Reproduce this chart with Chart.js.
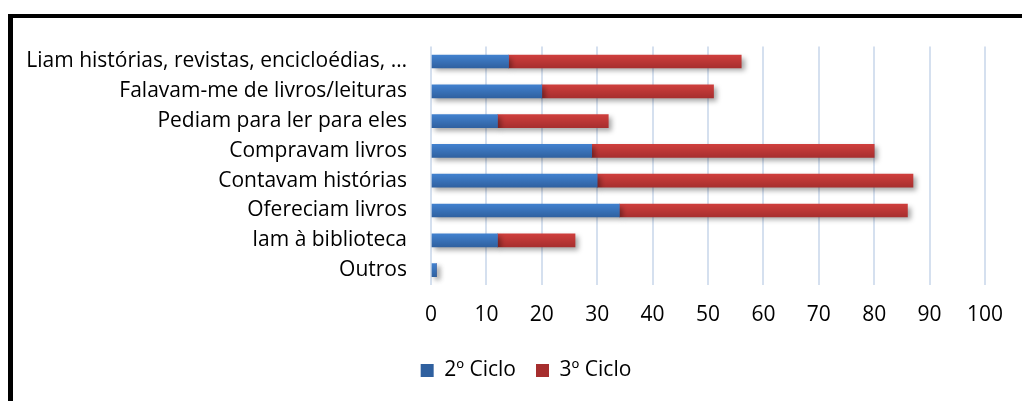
<!DOCTYPE html>
<html>
<head>
<meta charset="utf-8">
<script src="https://cdn.jsdelivr.net/npm/chart.js@4.4.1/dist/chart.umd.min.js"></script>
<style>
  html, body { margin: 0; padding: 0; background: #fff; overflow: hidden; width: 1022px; height: 401px; }
  #frame { position: absolute; left: 8px; top: 14px; width: 1100px; height: 500px;
           border-top: 4px solid #000; border-left: 5px solid #000; }
  #wrap { position: absolute; left: 13px; top: 18px; width: 1026px; height: 383px; }
</style>
</head>
<body>
<div id="frame"></div>
<div id="wrap"><canvas id="c"></canvas></div>
<script>
const categories = [
  "Liam histórias, revistas, encicloédias, …",
  "Falavam-me de livros/leituras",
  "Pediam para ler para eles",
  "Compravam livros",
  "Contavam histórias",
  "Ofereciam livros",
  "Iam à biblioteca",
  "Outros"
];
const ciclo2 = [14, 20, 12, 29, 30, 34, 12, 1];
const ciclo3 = [42, 31, 20, 51, 57, 52, 14, 0];
const seriesNames = ["2º Ciclo", "3º Ciclo"];
const xTicks = [0, 10, 20, 30, 40, 50, 60, 70, 80, 90, 100];

const FONT = "'Open Sans', Lato, sans-serif";
const FS = 21;

function grad(top, bottom, solid) {
  return function (ctx) {
    const chart = ctx.chart;
    if (ctx.dataIndex === undefined || !chart.scales || !chart.scales.y) return solid;
    const y = chart.scales.y.getPixelForValue(ctx.dataIndex);
    if (!isFinite(y)) return solid;
    const g = chart.ctx.createLinearGradient(0, y - 7, 0, y + 7);
    g.addColorStop(0, top);
    g.addColorStop(1, bottom);
    return g;
  };
}

const shadowPlugin = {
  id: 'shadow',
  beforeDatasetsDraw(chart) {
    const c = chart.ctx;
    c.save();
    c.shadowColor = 'rgba(0,0,0,0.35)';
    c.shadowBlur = 5;
    c.shadowOffsetX = 3;
    c.shadowOffsetY = 3;
  },
  afterDatasetsDraw(chart) { chart.ctx.restore(); }
};

const legendShift = {
  id: 'legendShift',
  afterLayout(chart) {
    if (chart.legend) { chart.legend.left += 27; chart.legend.right += 27; }
  }
};

new Chart(document.getElementById('c'), {
  type: 'bar',
  data: {
    labels: categories,
    datasets: [
      { label: seriesNames[0], data: ciclo2, backgroundColor: grad('#4282d0', '#2f609f', '#3a74bd'), barThickness: 13 },
      { label: seriesNames[1], data: ciclo3, backgroundColor: grad('#d03f3d', '#a62e2e', '#c0393a'), barThickness: 13 }
    ]
  },
  plugins: [shadowPlugin, legendShift],
  options: {
    indexAxis: 'y',
    responsive: true,
    maintainAspectRatio: false,
    animation: false,
    layout: { padding: { top: 11, right: 54, bottom: 10, left: 0 } },
    scales: {
      x: {
        stacked: true,
        min: 0, max: 100,
        afterBuildTicks(scale) { scale.ticks = xTicks.map(v => ({ value: v })); },
        grid: { color: '#d5e0ef', lineWidth: 2, drawTicks: false },
        border: { display: false },
        ticks: { color: '#000', font: { family: FONT, size: FS }, padding: 17 },
        afterFit(scale) { scale.height = 55; }
      },
      y: {
        stacked: true,
        grid: { display: false },
        border: { display: false },
        ticks: { color: '#000', font: { family: FONT, size: FS }, padding: 16 },
        afterFit(scale) { scale.width = 418; }
      }
    },
    plugins: {
      legend: {
        position: 'bottom',
        labels: { color: '#000', font: { family: FONT, size: FS }, boxWidth: 13, boxHeight: 13, padding: 20 }
      },
      tooltip: { enabled: false }
    }
  }
});
</script>
</body>
</html>
